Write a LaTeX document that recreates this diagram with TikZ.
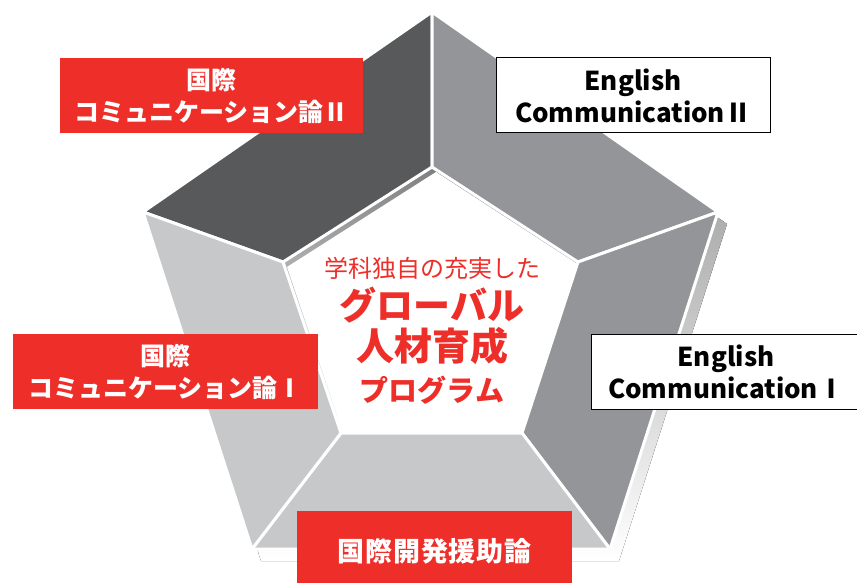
\documentclass[tikz,border=0pt]{standalone}
\usepackage{fontspec}
\setmainfont{Noto Sans CJK JP}
\newfontfamily\jpwide{Noto Sans CJK JP}[LetterSpace=3]
\usetikzlibrary{positioning}
\definecolor{segdark}{HTML}{58595B}
\definecolor{segmid}{HTML}{939598}
\definecolor{seglight}{HTML}{C7C8CA}
\definecolor{shade}{HTML}{D1D3D4}
\definecolor{brandred}{HTML}{EE2E29}

\begin{document}
\begin{tikzpicture}[x=1pt, y=-1pt,
  seg/.style={draw=white, line width=3pt, line join=round},
  redbox/.style={fill=brandred, text=white, minimum height=75pt, inner sep=0pt, align=center, font=\bfseries\fontsize{25}{32}\selectfont},
  engbox/.style={draw=black, line width=1pt, fill=white, minimum height=75pt, inner sep=0pt, align=center, font=\bfseries\fontsize{26}{32}\selectfont},
  headline/.style={text=brandred, inner sep=0pt}
]
\useasboundingbox (0,0) rectangle (857,583);

\coordinate (o1) at (432,12);
\coordinate (o2) at (718,212);
\coordinate (o3) at (610,549);
\coordinate (o4) at (252,549);
\coordinate (o5) at (143,212);
\coordinate (i1) at (432,167);
\coordinate (i2) at (578,262);
\coordinate (i3) at (522,433);
\coordinate (i4) at (341,433);
\coordinate (i5) at (283,262);

\fill[shade] ([shift={(9,12)}]o1) -- ([shift={(9,12)}]o2) -- ([shift={(9,12)}]o3)
  -- ([shift={(9,12)}]o4) -- ([shift={(9,12)}]o5) -- cycle;
\fill[shade] (i1) -- (i2) -- (i3) -- (i4) -- (i5) -- cycle;
\begin{scope}
  \clip (i1) -- (i2) -- (i3) -- (i4) -- (i5) -- cycle;
  \fill[white] ([shift={(4,5)}]i1) -- ([shift={(4,5)}]i2) -- ([shift={(4,5)}]i3)
    -- ([shift={(4,5)}]i4) -- ([shift={(4,5)}]i5) -- cycle;
\end{scope}
\foreach \a/\b/\c in {5/1/segdark, 1/2/segmid, 2/3/segmid, 3/4/seglight, 4/5/seglight}
  \filldraw[seg, fill=\c] (o\a) -- (o\b) -- (i\b) -- (i\a) -- cycle;

\node[headline, font=\fontsize{24}{24}\selectfont] (lead) at (432,268) {学科独自の充実した};
\node[headline, font=\bfseries\fontsize{37}{37}\selectfont] (global) at (432,305) {グローバル};
\node[headline, font=\bfseries\fontsize{38}{38}\selectfont] (talent) at (432,346) {人材育成};
\node[headline, font=\bfseries\fontsize{29}{29}\selectfont] (program) at (432,390) {プログラム};

\node[redbox, minimum width=303pt] (intlcom2) at (211.5,95.5) {国際\\コミュニケーション論Ⅱ};
\node[engbox, minimum width=274pt] (engcom2) at (633,95.5) {English\\CommunicationⅡ};
\node[redbox, minimum width=305pt] (intlcom1) at (165.5,371.5) {国際\\コミュニケーション論Ⅰ};
\node[engbox, minimum width=270pt] (engcom1) at (726,371.5) {English\\CommunicationⅠ};
\node[redbox, minimum width=275pt, minimum height=80pt, font=\jpwide\bfseries\fontsize{27}{30}\selectfont] (devaid) at (434.5,551) {国際開発援助論};
\end{tikzpicture}
\end{document}
